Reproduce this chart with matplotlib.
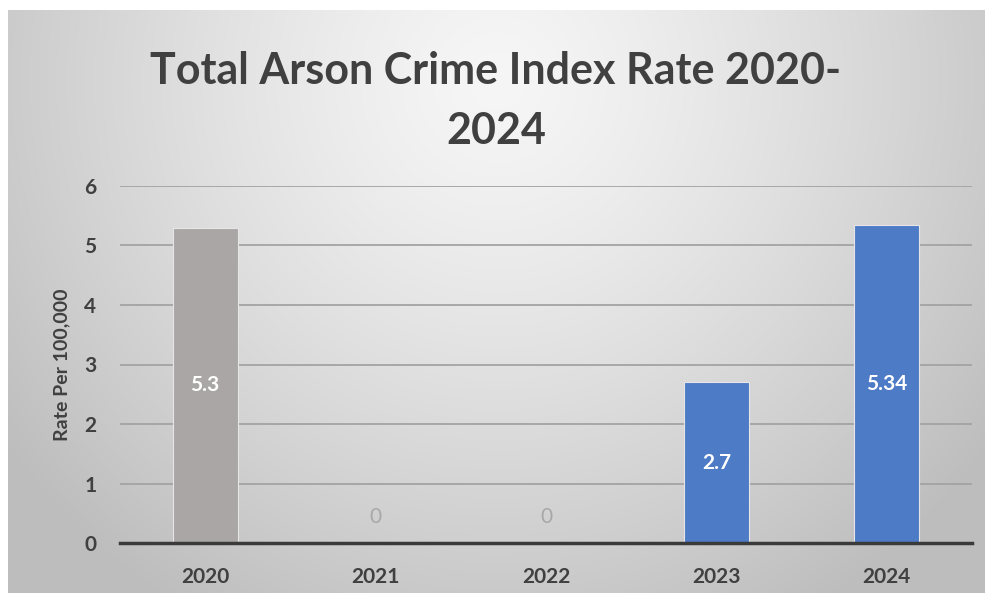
import numpy as np
import matplotlib
matplotlib.use("Agg")
import matplotlib.pyplot as plt

years = ["2020", "2021", "2022", "2023", "2024"]
rates = [5.3, 0, 0, 2.7, 5.34]
labels = ["5.3", "0", "0", "2.7", "5.34"]
bar_colors = ["#aaa6a5", "#4a78c4", "#4a78c4", "#4d7bc6", "#4d7bc6"]

plt.rcParams['font.family'] = ['Lato', 'DejaVu Sans']

W, H = 992, 601
fig = plt.figure(figsize=(W / 100, H / 100), dpi=100)
fig.patch.set_facecolor("white")

# gradient background panel
bg = fig.add_axes([8 / W, 8 / H, (985 - 8) / W, (591 - 8) / H])
bg.set_axis_off()
ny, nx = 300, 500
yy, xx = np.mgrid[0:ny, 0:nx]
cx, cy = nx * 0.5, ny * 0.12
r = np.sqrt(((xx - cx) / (nx * 0.62)) ** 2 + ((yy - cy) / (ny * 1.05)) ** 2)
r = np.clip(r, 0, 1)
v = 0.965 - 0.22 * r ** 1.3
img = np.dstack([v, v, v])
bg.imshow(img, aspect="auto", extent=[0, 1, 0, 1], origin="upper")
bg.set_xlim(0, 1)
bg.set_ylim(0, 1)

ax = fig.add_axes([120 / W, 1 - 543 / H, (972 - 120) / W, (543 - 186) / H])
ax.patch.set_alpha(0)
x = np.arange(len(years))
bars = ax.bar(x, rates, width=0.38, color=bar_colors, edgecolor="#e6e6e6", linewidth=0.8, zorder=3)
ax.set_xlim(-0.5, len(years) - 0.5)
ax.set_ylim(0, 6)
ax.set_yticks(range(0, 7))
ax.yaxis.grid(True, color="#a3a3a3", linewidth=1.3, zorder=0)
ax.set_axisbelow(True)
for s in ["top", "right", "left"]:
    ax.spines[s].set_visible(False)
ax.spines["bottom"].set_color("#3a3a3a")
ax.spines["bottom"].set_linewidth(2.5)
ax.spines["bottom"].set_zorder(4)
ax.tick_params(axis="both", length=0, labelsize=15, labelcolor="#404040")
ax.tick_params(axis="y", pad=17)
ax.tick_params(axis="x", pad=17)
ax.set_xticks(x)
ax.set_xticklabels(years, fontweight="bold")
for t in ax.get_yticklabels():
    t.set_fontweight("bold")
ax.set_ylabel("Rate Per 100,000", fontsize=14, fontweight="bold", color="#404040", labelpad=10)

for xi, val, lab in zip(x, rates, labels):
    if val > 0:
        ax.text(xi, val / 2, lab, ha="center", va="center", color="white",
                fontsize=15, fontweight="bold", zorder=5)
    else:
        ax.annotate(lab, (xi, 0), xytext=(0, 19), textcoords="offset points",
                    ha="center", va="center", color="#a8a8a8", fontsize=15, zorder=5)

fig.text(0.5, 1 - 71 / H, "Total Arson Crime Index Rate 2020-", ha="center", va="center",
         fontsize=31, fontweight="bold", color="#404040")
fig.text(0.5, 1 - 131 / H, "2024", ha="center", va="center",
         fontsize=31, fontweight="bold", color="#404040")

fig.savefig("out.png", dpi=100)
